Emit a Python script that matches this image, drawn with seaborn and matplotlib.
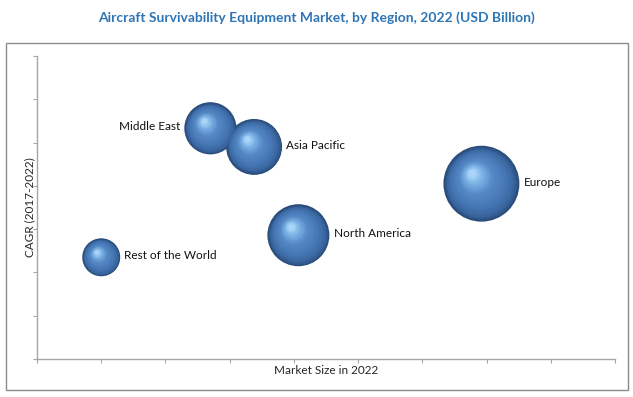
"""Bubble chart - aircraft survivability equipment market by region."""

import numpy as np
import pandas as pd
import matplotlib
matplotlib.use('Agg')
import matplotlib.pyplot as plt
import matplotlib.transforms as mtransforms
from matplotlib.colors import LinearSegmentedColormap
from matplotlib.patches import Rectangle
import seaborn as sns

sns.set_style("white")
plt.rcParams['font.family'] = ['Lato', 'DejaVu Sans']

# data (axis has no tick labels, so units are arbitrary)
regions = ["Rest of the World", "Middle East", "Asia Pacific", "North America", "Europe"]
market_size = [1.0, 2.7, 3.38, 4.07, 6.92]
cagr = [2.35, 5.33, 4.9, 2.86, 4.05]
bubble_value = [1.8, 3.4, 3.9, 4.8, 7.2]

df = pd.DataFrame({
    'region': regions,
    'market_size': market_size,
    'cagr': cagr,
    'bubble': bubble_value,
})

S_MAX = 2990
V_MAX = max(bubble_value)
axis_grey = '#a6a6a6'

fig = plt.figure(figsize=(6.33, 3.97), dpi=100)
ax = fig.add_axes([37 / 633, 1 - 359 / 397, (615 - 37) / 633, (359 - 56) / 397])

# outer frame around chart area
fig.patches.append(Rectangle((6 / 633, 1 - 390 / 397), 622 / 633, 347 / 397,
                             transform=fig.transFigure, fill=False,
                             edgecolor='#8c8c8c', linewidth=1.0))

ax.set_xlim(0, 9)
ax.set_ylim(0, 7)

# base bubbles
sns.scatterplot(data=df, x='market_size', y='cagr', size='bubble',
                sizes=(0, S_MAX), size_norm=(0, V_MAX), color='#2a4d7c',
                linewidth=0, legend=False, ax=ax, zorder=3)

# fake sphere shading: stacked circles shrinking toward an upper-left highlight
shade = LinearSegmentedColormap.from_list(
    'sphere', [(0.0, '#2a4d7c'), (0.12, '#3a67a0'), (0.3, '#4677b4'),
               (0.6, '#5589c6'), (0.85, '#7db4e6'), (1.0, '#a9d4f8')])
n_layers = 40
sizes = S_MAX * df['bubble'].to_numpy() / V_MAX
for k in range(1, n_layers):
    t = k / (n_layers - 1)
    for x, y, s in zip(df['market_size'], df['cagr'], sizes):
        r_pt = np.sqrt(s) / 2
        dx, dy = -0.25 * t * r_pt, 0.28 * t * r_pt
        rk = r_pt * (1 - 0.9 * t) * 0.985
        tr = ax.transData + mtransforms.ScaledTranslation(dx / 72, dy / 72,
                                                          fig.dpi_scale_trans)
        ax.scatter([x], [y], s=(2 * rk) ** 2, color=shade(t), linewidth=0,
                   transform=tr, zorder=3 + k * 0.01)

# region labels next to each bubble
for x, y, s, name in zip(df['market_size'], df['cagr'], sizes, df['region']):
    r_pt = np.sqrt(s) / 2
    if name == "Middle East":
        ax.annotate(name, (x, y), xytext=(-r_pt - 3, 1), textcoords='offset points',
                    ha='right', va='center', fontsize=8.5, color='#111111')
    else:
        ax.annotate(name, (x, y), xytext=(r_pt + 3, 1), textcoords='offset points',
                    ha='left', va='center', fontsize=8.5, color='#111111')

for side in ['top', 'right']:
    ax.spines[side].set_visible(False)
for side in ['left', 'bottom']:
    ax.spines[side].set_color(axis_grey)
    ax.spines[side].set_linewidth(1.0)

ax.set_xticks(np.arange(0, 10))
ax.set_yticks(np.arange(0, 8))
ax.tick_params(axis='both', direction='out', length=3, width=0.8,
               color=axis_grey, labelbottom=False, labelleft=False,
               bottom=True, left=True)

ax.set_xlabel('Market Size in 2022', fontsize=8.5, labelpad=1)
ax.set_ylabel('CAGR (2017-2022)', fontsize=8.5, labelpad=-2)

fig.text(0.5, 1 - 18 / 397, 'Aircraft Survivability Equipment Market, by Region, 2022 (USD Billion)',
         ha='center', va='center', fontsize=10, fontweight='bold', color='#2e75b6')

fig.savefig('out.png', dpi=100)
plt.close(fig)
